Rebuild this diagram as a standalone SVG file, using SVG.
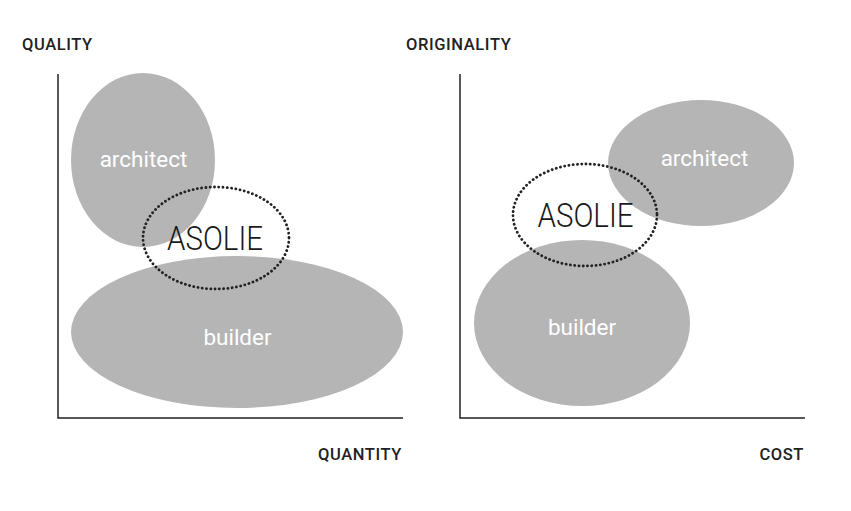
<svg xmlns="http://www.w3.org/2000/svg" width="851" height="511" viewBox="0 0 851 511">
<style>
.blob{fill:#b5b5b5}
.lbl{font-family:Roboto,"Liberation Sans",sans-serif;font-size:22.5px;fill:#fff;text-anchor:middle}
.ax{font-family:Roboto,"Liberation Sans",sans-serif;font-size:16.5px;font-weight:500;fill:#222;letter-spacing:0.6px}
.axis{fill:none;stroke:#222;stroke-width:1.5}
.dot{fill:none;stroke:#222;stroke-width:2.8;stroke-dasharray:0.1 4.2;stroke-linecap:round}
.logo{font-family:Roboto,"Noto Sans",sans-serif;font-weight:300;font-size:34px;fill:#1a1a1a;text-anchor:middle}
</style>
<rect width="851" height="511" fill="#fff"/>
<g id="left-chart">
<g id="left-axes"><path class="axis" d="M58,74 V418 H403"/></g>
<g id="left-architect"><ellipse class="blob" cx="143" cy="160" rx="72" ry="87"/><text class="lbl" x="143.5" y="167">architect</text></g>
<g id="left-builder"><ellipse class="blob" cx="237" cy="332" rx="166" ry="76"/><text class="lbl" x="237.5" y="345">builder</text></g>
<g id="left-asolie"><ellipse class="dot" cx="216" cy="238" rx="73" ry="51"/><text class="logo" x="215" y="250" textLength="96" lengthAdjust="spacingAndGlyphs">ASOLIE</text></g>
<text class="ax" x="22" y="50">QUALITY</text>
<text class="ax" x="402" y="460" text-anchor="end">QUANTITY</text>
</g>
<g id="right-chart">
<g id="right-axes"><path class="axis" d="M460,74 V418 H805"/></g>
<g id="right-architect"><ellipse class="blob" cx="701" cy="163" rx="93" ry="63"/><text class="lbl" x="704.5" y="166">architect</text></g>
<g id="right-builder"><ellipse class="blob" cx="582" cy="323" rx="108" ry="83"/><text class="lbl" x="582" y="335">builder</text></g>
<g id="right-asolie"><ellipse class="dot" cx="585" cy="215" rx="72" ry="51"/><text class="logo" x="585.5" y="227" textLength="96" lengthAdjust="spacingAndGlyphs">ASOLIE</text></g>
<text class="ax" x="406" y="50">ORIGINALITY</text>
<text class="ax" x="804" y="460" text-anchor="end">COST</text>
</g>
</svg>
